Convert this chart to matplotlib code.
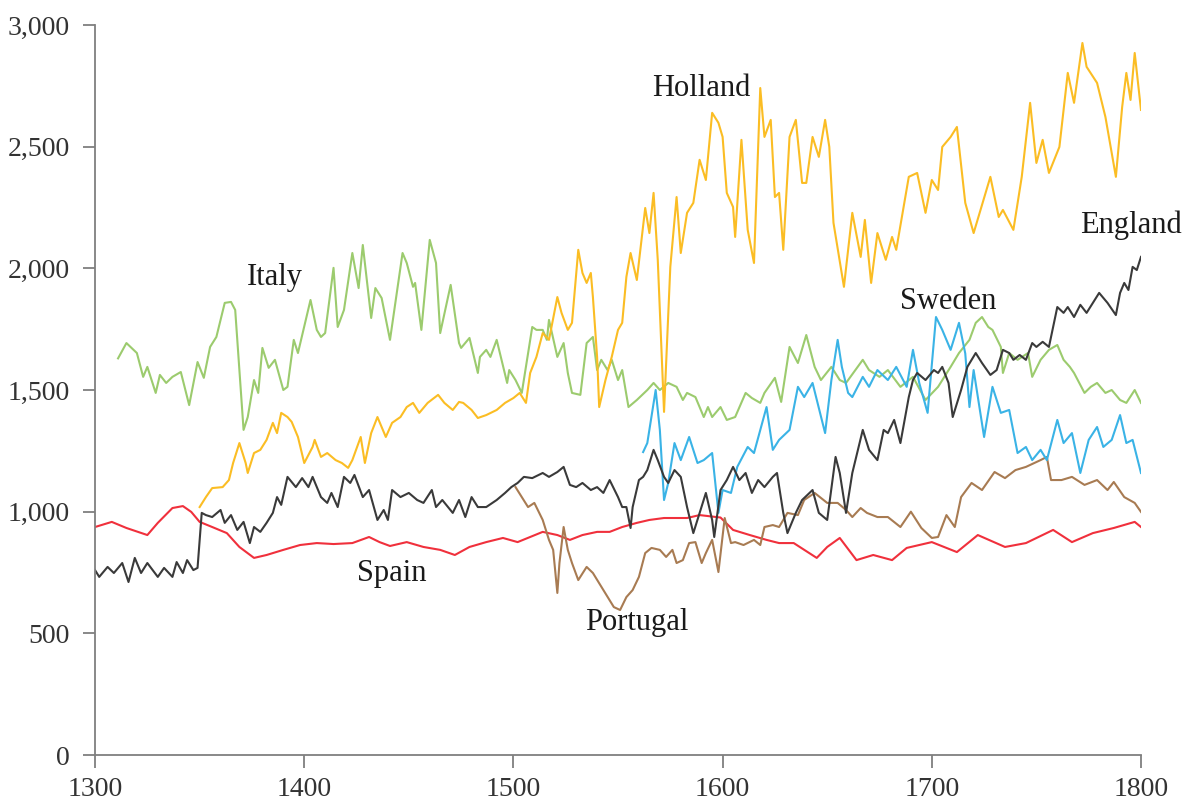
import matplotlib.pyplot as plt
from matplotlib.ticker import FuncFormatter

# values (year, level)
italy_years = [1311, 1315, 1320, 1323, 1325, 1329, 1331, 1334, 1337, 1341, 1345, 1349, 1352, 1355, 1358, 1362,
               1365, 1367, 1371, 1373, 1376, 1378, 1380, 1383, 1386, 1390, 1392, 1395, 1397, 1403, 1406, 1408,
               1410, 1414, 1416, 1419, 1423, 1426, 1428, 1432, 1434, 1437, 1441, 1447, 1449, 1452, 1453, 1456,
               1460, 1463, 1465, 1470, 1474, 1475, 1479, 1483, 1484, 1487, 1489, 1492, 1497, 1498, 1501, 1504,
               1507, 1509, 1511, 1514, 1516, 1517, 1521, 1524, 1526, 1528, 1532, 1535, 1538, 1540, 1542, 1545,
               1547, 1550, 1552, 1555, 1559, 1564, 1567, 1570, 1574, 1578, 1581, 1583, 1587, 1591, 1593, 1595,
               1599, 1602, 1606, 1611, 1614, 1618, 1620, 1625, 1628, 1632, 1636, 1640, 1644, 1647, 1652, 1656,
               1659, 1667, 1670, 1675, 1679, 1685, 1691, 1697, 1703, 1709, 1713, 1718, 1721, 1724, 1727, 1729,
               1733, 1734, 1737, 1741, 1746, 1748, 1752, 1756, 1760, 1763, 1766, 1768, 1773, 1776, 1779, 1783,
               1786, 1790, 1793, 1797, 1800]
italy = [1630, 1693, 1652, 1554, 1595, 1488, 1562, 1529, 1554, 1574, 1438, 1615, 1550, 1677, 1718, 1858,
         1862, 1829, 1336, 1389, 1541, 1488, 1673, 1591, 1624, 1500, 1513, 1706, 1652, 1870, 1747, 1718,
         1734, 2002, 1759, 1829, 2063, 1919, 2096, 1796, 1919, 1878, 1706, 2063, 2022, 1924, 1940, 1747,
         2117, 2022, 1734, 1932, 1693, 1673, 1714, 1570, 1636, 1665, 1636, 1706, 1529, 1582, 1541, 1488,
         1652, 1759, 1747, 1747, 1706, 1788, 1636, 1693, 1570, 1488, 1480, 1693, 1718, 1582, 1624, 1582,
         1624, 1541, 1582, 1430, 1459, 1500, 1529, 1500, 1529, 1513, 1459, 1488, 1471, 1389, 1430, 1389,
         1430, 1377, 1389, 1488, 1467, 1447, 1488, 1550, 1451, 1677, 1611, 1726, 1595, 1541, 1595, 1541,
         1529, 1624, 1582, 1554, 1582, 1513, 1554, 1459, 1513, 1595, 1652, 1706, 1776, 1800, 1759, 1747,
         1677, 1570, 1652, 1624, 1652, 1554, 1624, 1665, 1685, 1624, 1595, 1570, 1488, 1513, 1529, 1488,
         1500, 1459, 1447, 1500, 1447]

holland_years = [1350, 1353, 1356, 1361, 1364, 1366, 1369, 1372, 1373, 1376, 1379, 1382, 1385, 1387, 1389, 1392,
                 1394, 1397, 1400, 1404, 1405, 1408, 1411, 1415, 1418, 1421, 1423, 1427, 1429, 1432, 1435, 1439,
                 1442, 1446, 1449, 1452, 1455, 1459, 1464, 1467, 1471, 1474, 1476, 1480, 1483, 1487, 1492, 1496,
                 1500, 1503, 1506, 1508, 1511, 1514, 1517, 1521, 1523, 1526, 1528, 1531, 1533, 1535, 1537, 1538,
                 1540, 1541, 1544, 1547, 1550, 1552, 1554, 1556, 1559, 1563, 1565, 1567, 1569, 1572, 1575, 1578,
                 1580, 1583, 1586, 1589, 1592, 1595, 1598, 1600, 1602, 1605, 1606, 1609, 1612, 1615, 1618, 1620,
                 1623, 1625, 1627, 1629, 1632, 1635, 1638, 1640, 1643, 1646, 1649, 1651, 1653, 1658, 1662, 1666,
                 1668, 1671, 1674, 1678, 1681, 1683, 1689, 1693, 1697, 1700, 1703, 1705, 1709, 1712, 1716, 1720,
                 1728, 1732, 1734, 1739, 1743, 1747, 1750, 1753, 1756, 1761, 1765, 1768, 1772, 1774, 1779, 1783,
                 1788, 1791, 1793, 1795, 1797, 1800]
holland = [1019, 1060, 1097, 1101, 1130, 1200, 1282, 1200, 1159, 1241, 1254, 1295, 1365, 1323, 1406, 1389,
           1369, 1307, 1200, 1266, 1295, 1225, 1241, 1212, 1200, 1180, 1212, 1307, 1200, 1323, 1389, 1307,
           1365, 1389, 1430, 1447, 1406, 1447, 1480, 1447, 1418, 1451, 1447, 1418, 1385, 1397, 1418, 1447,
           1467, 1488, 1447, 1570, 1636, 1734, 1706, 1882, 1817, 1747, 1776, 2076, 1981, 1940, 1981, 1882,
           1636, 1430, 1541, 1636, 1747, 1776, 1965, 2063, 1952, 2248, 2145, 2310, 2035, 1410, 2006, 2293,
           2063, 2228, 2269, 2446, 2363, 2639, 2598, 2540, 2310, 2252, 2129, 2528, 2158, 2022, 2741, 2540,
           2610, 2293, 2310, 2076, 2540, 2610, 2351, 2351, 2540, 2458, 2610, 2499, 2187, 1924, 2228, 2047,
           2199, 1940, 2145, 2035, 2129, 2076, 2376, 2392, 2228, 2363, 2322, 2499, 2540, 2581, 2269, 2145,
           2376, 2211, 2240, 2158, 2376, 2680, 2433, 2528, 2392, 2499, 2803, 2680, 2926, 2828, 2762, 2622,
           2376, 2663, 2803, 2692, 2885, 2651]

sweden_years = [1562, 1564, 1568, 1570, 1572, 1574, 1577, 1580, 1584, 1588, 1591, 1595, 1598, 1600, 1604, 1607,
                1612, 1615, 1621, 1624, 1627, 1632, 1636, 1639, 1643, 1649, 1652, 1655, 1657, 1660, 1662, 1667,
                1670, 1674, 1679, 1683, 1688, 1691, 1694, 1698, 1702, 1705, 1709, 1713, 1716, 1718, 1720, 1725,
                1729, 1733, 1737, 1741, 1745, 1748, 1752, 1755, 1760, 1763, 1767, 1771, 1775, 1779, 1782, 1786,
                1790, 1793, 1796, 1800]
sweden = [1245, 1282, 1500, 1336, 1048, 1118, 1282, 1212, 1307, 1200, 1212, 1241, 995, 1089, 1077, 1184,
          1266, 1241, 1430, 1254, 1295, 1336, 1513, 1471, 1529, 1323, 1541, 1706, 1595, 1488, 1471, 1554,
          1513, 1582, 1541, 1595, 1513, 1665, 1529, 1406, 1800, 1747, 1665, 1776, 1650, 1430, 1582, 1307,
          1513, 1406, 1418, 1241, 1266, 1212, 1254, 1212, 1377, 1282, 1323, 1159, 1295, 1348, 1266, 1295,
          1397, 1282, 1295, 1159]

england_years = [1300, 1302, 1306, 1309, 1313, 1316, 1319, 1322, 1325, 1330, 1333, 1337, 1339, 1342, 1344, 1347,
                 1349, 1351, 1353, 1356, 1360, 1362, 1365, 1368, 1371, 1374, 1376, 1379, 1382, 1385, 1387, 1389,
                 1392, 1396, 1399, 1402, 1404, 1408, 1411, 1413, 1416, 1419, 1422, 1424, 1428, 1431, 1435, 1438,
                 1440, 1442, 1446, 1450, 1454, 1457, 1461, 1463, 1466, 1471, 1474, 1477, 1480, 1483, 1487, 1492,
                 1496, 1499, 1502, 1505, 1509, 1514, 1517, 1521, 1524, 1527, 1530, 1533, 1537, 1540, 1543, 1546,
                 1550, 1552, 1554, 1556, 1557, 1560, 1562, 1564, 1567, 1569, 1572, 1574, 1577, 1580, 1583, 1586,
                 1589, 1592, 1595, 1596, 1599, 1602, 1605, 1608, 1611, 1614, 1617, 1620, 1624, 1626, 1629, 1631,
                 1635, 1638, 1643, 1646, 1650, 1654, 1656, 1659, 1662, 1667, 1670, 1674, 1677, 1679, 1682, 1685,
                 1689, 1691, 1693, 1697, 1701, 1703, 1705, 1708, 1710, 1714, 1717, 1721, 1724, 1728, 1731, 1734,
                 1737, 1739, 1742, 1745, 1748, 1750, 1753, 1756, 1760, 1763, 1765, 1768, 1771, 1774, 1777, 1780,
                 1784, 1788, 1790, 1792, 1794, 1796, 1798, 1800]
england = [760, 732, 773, 748, 789, 711, 810, 748, 789, 732, 769, 732, 793, 748, 801, 760,
           769, 995, 986, 978, 1007, 954, 986, 925, 958, 871, 937, 917, 954, 995, 1060, 1028,
           1143, 1101, 1138, 1101, 1143, 1060, 1036, 1077, 1019, 1143, 1118, 1151, 1060, 1089, 966, 1007,
           966, 1089, 1060, 1077, 1048, 1036, 1089, 1019, 1048, 995, 1048, 978, 1060, 1019, 1019, 1048,
           1077, 1101, 1118, 1143, 1138, 1159, 1143, 1163, 1184, 1110, 1101, 1118, 1089, 1101, 1077, 1130,
           1060, 1019, 1019, 933, 1019, 1130, 1143, 1171, 1254, 1212, 1143, 1118, 1171, 1143, 1019, 912,
           995, 1077, 966, 896, 1089, 1130, 1184, 1130, 1159, 1077, 1130, 1101, 1143, 1159, 995, 912,
           995, 1048, 1089, 995, 966, 1225, 1159, 995, 1159, 1336, 1254, 1212, 1336, 1323, 1377, 1282,
           1471, 1541, 1570, 1541, 1582, 1570, 1595, 1529, 1389, 1500, 1595, 1652, 1611, 1562, 1582, 1665,
           1652, 1624, 1644, 1624, 1693, 1677, 1698, 1677, 1841, 1817, 1841, 1800, 1850, 1817, 1858, 1899,
           1858, 1808, 1899, 1940, 1911, 2006, 1993, 2047]

spain_years = [1300, 1308, 1315, 1325, 1330, 1337, 1342, 1346, 1350, 1356, 1363, 1369, 1376, 1382, 1390, 1398,
               1406, 1414, 1423, 1431, 1436, 1441, 1449, 1457, 1465, 1472, 1479, 1487, 1495, 1502, 1508, 1514,
               1521, 1527, 1533, 1540, 1546, 1552, 1559, 1565, 1572, 1578, 1583, 1589, 1599, 1605, 1613, 1621,
               1627, 1634, 1645, 1650, 1656, 1664, 1672, 1681, 1688, 1700, 1712, 1722, 1735, 1745, 1758, 1767,
               1777, 1787, 1797, 1800]
spain = [937, 958, 933, 904, 954, 1015, 1023, 999, 958, 937, 912, 855, 810, 822, 843, 863,
         871, 867, 871, 896, 875, 859, 875, 855, 843, 822, 855, 875, 892, 875, 896, 917,
         904, 884, 904, 917, 917, 937, 954, 966, 974, 974, 974, 986, 976, 925, 904, 884,
         871, 871, 810, 855, 892, 801, 822, 801, 851, 875, 834, 904, 855, 871, 925, 875,
         912, 933, 958, 937]

portugal_years = [1501, 1504, 1507, 1510, 1514, 1517, 1519, 1521, 1522, 1524, 1526, 1528, 1531, 1535, 1538, 1543,
                  1548, 1551, 1554, 1557, 1560, 1563, 1566, 1570, 1573, 1576, 1578, 1581, 1584, 1587, 1590, 1592,
                  1595, 1598, 1601, 1604, 1606, 1610, 1615, 1618, 1620, 1624, 1627, 1631, 1636, 1639, 1644, 1650,
                  1655, 1659, 1662, 1666, 1669, 1674, 1679, 1685, 1690, 1695, 1700, 1703, 1707, 1711, 1714, 1719,
                  1724, 1730, 1735, 1740, 1745, 1752, 1755, 1757, 1762, 1767, 1773, 1779, 1784, 1787, 1792, 1797,
                  1800]
portugal = [1101, 1060, 1019, 1036, 966, 884, 843, 666, 789, 937, 843, 789, 719, 773, 748, 678,
            608, 596, 649, 678, 732, 830, 851, 843, 814, 843, 789, 801, 871, 875, 789, 830,
            884, 752, 974, 871, 875, 863, 884, 863, 937, 945, 937, 995, 986, 1048, 1077, 1036,
            1036, 1007, 978, 1015, 995, 978, 978, 937, 1000, 933, 892, 896, 986, 937, 1060, 1118,
            1089, 1163, 1138, 1171, 1184, 1212, 1225, 1130, 1130, 1143, 1110, 1130, 1089, 1122, 1060, 1036,
            999]

plt.rcParams['font.family'] = ['Liberation Serif', 'DejaVu Serif']

fig = plt.figure(figsize=(11.94, 8.01), dpi=100)
ax = fig.add_axes([0.0796, 0.0574, 0.876, 0.9114])

lw = 1.5
ax.plot(spain_years, spain, color='#F0303C', lw=lw, solid_joinstyle='round')
ax.plot(portugal_years, portugal, color='#A87B52', lw=lw, solid_joinstyle='round')
ax.plot(italy_years, italy, color='#9CCB6E', lw=lw, solid_joinstyle='round')
ax.plot(holland_years, holland, color='#FBBD24', lw=lw, solid_joinstyle='round')
ax.plot(sweden_years, sweden, color='#3AB3E6', lw=lw, solid_joinstyle='round')
ax.plot(england_years, england, color='#3A3A3A', lw=lw, solid_joinstyle='round')

ax.set_xlim(1300, 1800)
ax.set_ylim(0, 3000)
ax.set_xticks([1300, 1400, 1500, 1600, 1700, 1800])
ax.set_yticks([0, 500, 1000, 1500, 2000, 2500, 3000])
ax.yaxis.set_major_formatter(FuncFormatter(lambda v, p: '{:,}'.format(int(v))))

for s in ['top', 'right']:
    ax.spines[s].set_visible(False)
for s in ['left', 'bottom']:
    ax.spines[s].set_color('#7F7F7F')
    ax.spines[s].set_linewidth(1.3)
ax.tick_params(axis='both', colors='#7F7F7F', labelcolor='#333333', labelsize=20,
               length=9, width=1.3, direction='out')
ax.tick_params(axis='y', pad=9)
ax.tick_params(axis='x', pad=7)

# series labels
lab = dict(fontsize=22, color='#1A1A1A', ha='center', va='center')
ax.text(1386, 1961, 'Italy', **lab)
ax.text(1590, 2741, 'Holland', **lab)
ax.text(1795, 2178, 'England', **lab)
ax.text(1708, 1862, 'Sweden', **lab)
ax.text(1442, 748, 'Spain', **lab)
ax.text(1559, 543, 'Portugal', **lab)

plt.savefig('out.png', dpi=100)
